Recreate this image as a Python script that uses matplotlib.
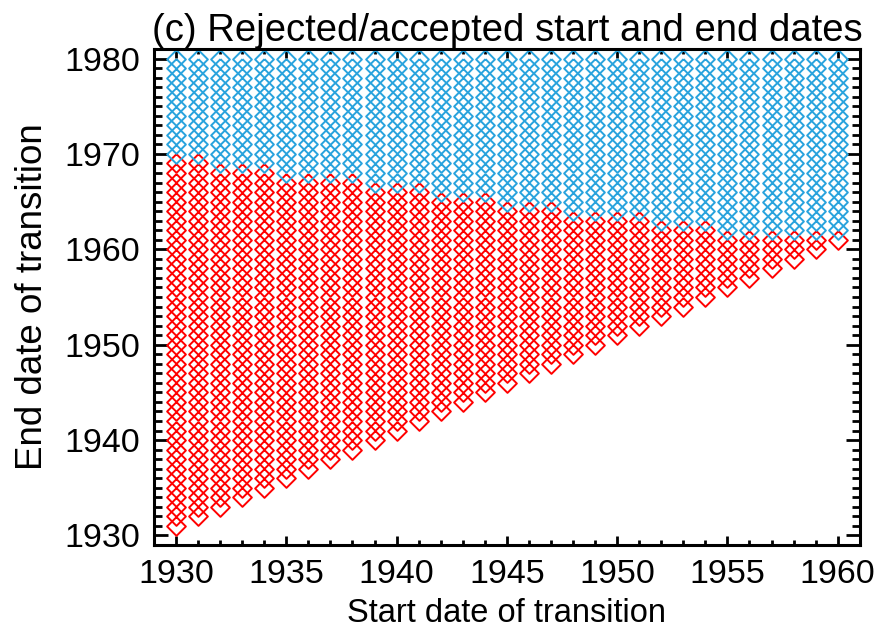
import matplotlib
matplotlib.use("Agg")
import matplotlib.pyplot as plt
from matplotlib.ticker import MultipleLocator

plt.rcParams['font.family'] = ['Liberation Sans', 'DejaVu Sans']

# Data: start years, and for each start year the latest end year that was rejected
start_years = list(range(1930, 1961))
last_rejected_end = [1969, 1969, 1968, 1968, 1968, 1967, 1967, 1967, 1967,
                     1966, 1966, 1966, 1965, 1965, 1965, 1964, 1964, 1964,
                     1963, 1963, 1963, 1963, 1962, 1962, 1962,
                     1961, 1961, 1961, 1961, 1961, 1961]
final_end_year = 1980

title = "(c) Rejected/accepted start and end dates"
xlabel = "Start date of transition"
ylabel = "End date of transition"

rej_x, rej_y, acc_x, acc_y = [], [], [], []
for s, lim in zip(start_years, last_rejected_end):
    for e in range(s + 1, final_end_year + 1):
        if e <= lim:
            rej_x.append(s); rej_y.append(e)
        else:
            acc_x.append(s); acc_y.append(e)

red = '#FF0000'
blue = '#29A3DD'
diamond = [(0, 1), (1, 0), (0, -1), (-1, 0), (0, 1)]

fig = plt.figure(figsize=(8.8, 6.34), dpi=100)
ax = fig.add_axes([0.175, 0.1404, 0.802, 0.7823])

ax.plot(rej_x, rej_y, linestyle='none', marker=diamond, markersize=13.5,
        markerfacecolor='none', markeredgecolor=red, markeredgewidth=1.4,
        clip_on=False)
ax.plot(acc_x, acc_y, linestyle='none', marker=diamond, markersize=13.5,
        markerfacecolor='none', markeredgecolor=blue, markeredgewidth=1.4,
        clip_on=False)

ax.set_xlim(1929, 1961)
ax.set_ylim(1929, 1981)
ax.xaxis.set_major_locator(MultipleLocator(5))
ax.xaxis.set_minor_locator(MultipleLocator(1))
ax.yaxis.set_major_locator(MultipleLocator(10))
ax.yaxis.set_minor_locator(MultipleLocator(1))

fs_tick = 24.5
ax.tick_params(axis='both', which='both', direction='in', top=True, right=True,
               colors='black', width=2.0, labelsize=fs_tick)
ax.tick_params(axis='x', which='major', length=6.5, pad=10)
ax.tick_params(axis='x', which='minor', length=3.3)
ax.tick_params(axis='y', which='major', length=10, pad=10)
ax.tick_params(axis='y', which='minor', length=5.5)
for sp in ax.spines.values():
    sp.set_linewidth(2.2)
    sp.set_zorder(5)

ax.set_title(title, fontsize=27.5, pad=2)
ax.set_xlabel(xlabel, fontsize=23.5, labelpad=6)
ax.set_ylabel(ylabel, fontsize=26.5, labelpad=10)

fig.savefig("out.png", dpi=100)
